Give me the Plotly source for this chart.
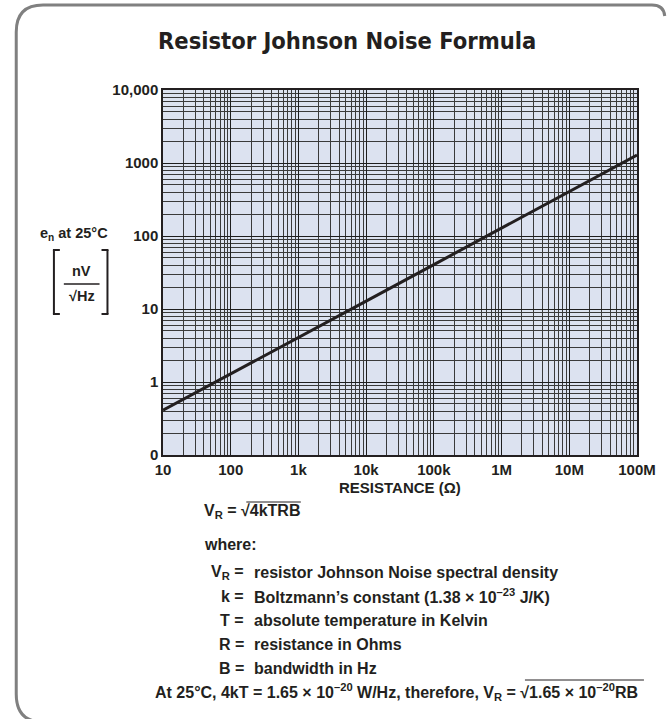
import plotly.graph_objects as go

# ---- data ----
resistance_ohm = [10, 100, 1e3, 1e4, 1e5, 1e6, 1e7, 1e8]
noise_nv_rthz = [0.41, 1.28, 4.06, 12.8, 40.6, 128, 406, 1285]

x_tick_vals = [10, 100, 1e3, 1e4, 1e5, 1e6, 1e7, 1e8]
x_tick_text = ["10", "100", "1k", "10k", "100k", "1M", "10M", "100M"]
y_tick_vals = [0.1, 1, 10, 100, 1000, 10000]
y_tick_text = ["0", "1", "10", "100", "1000", "10,000"]

title_text = "Resistor Johnson Noise Formula"
x_title = "RESISTANCE (Ω)"
defs_labels = ["V<sub>R</sub> =", "k =", "T =", "R =", "B ="]
defs_texts = [
    "resistor Johnson Noise spectral density",
    "Boltzmann’s constant (1.38 × 10<sup>–23</sup> J/K)",
    "absolute temperature in Kelvin",
    "resistance in Ohms",
    "bandwidth in Hz",
]

# ---- layout geometry (pixels) ----
W, H = 668, 719
PL, PR, PT, PB = 163, 641, 90, 455


def px(x):
    return (x - PL) / (PR - PL)


def py(y):
    return (PB - y) / (PB - PT)


FONT = "Liberation Sans, Arial, Helvetica, sans-serif"
TXT = "#231f20"

# minor grid positions (2..9 in every decade)
minor_x = [m * 10 ** e for e in range(1, 8) for m in range(2, 10)]
minor_y = [m * 10 ** e for e in range(-1, 4) for m in range(2, 10)]

fig = go.Figure()
fig.add_trace(go.Scatter(
    x=resistance_ohm, y=noise_nv_rthz, mode="lines",
    line=dict(color=TXT, width=3), showlegend=False, hoverinfo="skip",
))

axis_common = dict(
    type="log", showline=True, mirror=True, linecolor="#231f20", linewidth=1.5,
    showgrid=True, gridcolor="#1e1e1e", gridwidth=1,
    ticks="", zeroline=False,
    tickfont=dict(family=FONT, size=15, color=TXT, weight="bold"),
)

fig.update_xaxes(range=[1, 8], tickvals=x_tick_vals, ticktext=x_tick_text,
                 minor=dict(showgrid=True, tickmode="array", tickvals=minor_x,
                            gridcolor="#3a3a3a", gridwidth=1, ticks=""),
                 **axis_common)
fig.update_yaxes(range=[-1, 4], tickvals=y_tick_vals, ticktext=y_tick_text,
                 minor=dict(showgrid=True, tickmode="array", tickvals=minor_y,
                            gridcolor="#3a3a3a", gridwidth=1, ticks=""),
                 **axis_common)

fig.update_layout(
    width=W, height=H,
    margin=dict(l=PL, r=W - PR, t=PT, b=H - PB, pad=0),
    plot_bgcolor="#dce2f0", paper_bgcolor="white",
    showlegend=False,
)

ann = []


def add(text, x, y, size=16, xanchor="center", family=FONT):
    ann.append(dict(text=text, x=px(x), y=py(y), xref="paper", yref="paper",
                    xanchor=xanchor, yanchor="middle", showarrow=False,
                    font=dict(family=family, size=size, color=TXT, weight="bold")))


# title
add(title_text, 349, 41, size=23.5,
    family="Liberation Sans Narrow, DejaVu Sans Condensed, Arial Narrow, sans-serif")
# x title
add(x_title, 402, 487, size=15)
# y label
add("e<sub>n</sub> at 25°C", 73, 234, size=14.5)
add("nV", 81, 271, size=14.5)
add("√Hz", 81, 296, size=14.5)
# formula block
add("V<sub>R</sub> = √4kTRB", 202, 512, xanchor="left")
add("where:", 202, 544, xanchor="left")
rows_y = [572, 596, 620, 644, 668]
for lab, txt, yy in zip(defs_labels, defs_texts, rows_y):
    add(lab, 247, yy, xanchor="right")
    add(txt, 253, yy, xanchor="left")
add("At 25°C, 4kT = 1.65 × 10<sup>–20</sup> W/Hz, therefore, V<sub>R</sub> = √1.65 × 10<sup>–20</sup>RB",
    398, 692)
fig.update_layout(annotations=ann)

shapes = []


def line(x0, y0, x1, y1, w=1.5, c=TXT):
    shapes.append(dict(type="line", xref="paper", yref="paper",
                       x0=px(x0), y0=py(y0), x1=px(x1), y1=py(y1),
                       line=dict(color=c, width=w)))


# fraction bar and brackets
line(63, 284, 99, 284, w=1.5)
line(53, 250, 53, 314, w=2)
line(52, 250, 59, 250, w=2)
line(52, 314, 59, 314, w=2)
line(107, 250, 107, 314, w=2)
line(101, 250, 108, 250, w=2)
line(101, 314, 108, 314, w=2)
# radical overlines
line(247, 502, 302, 502, w=1)
line(528, 680, 648, 680, w=1)


def P(x, y):
    return f"{px(x):.5f},{py(y):.5f}"


frame = (f"M {P(669, 16)} Q {P(668, 5)} {P(656, 5)} L {P(42, 5)} "
         f"Q {P(15, 5)} {P(15, 32)} L {P(15, 694)} Q {P(15, 722)} {P(42, 722)} L {P(120, 722)}")
shapes.append(dict(type="path", xref="paper", yref="paper", path=frame,
                   line=dict(color="#808080", width=3)))
fig.update_layout(shapes=shapes)

fig.write_html("out.html", config={"displayModeBar": False},
               post_script="document.body.style.margin='0';")
